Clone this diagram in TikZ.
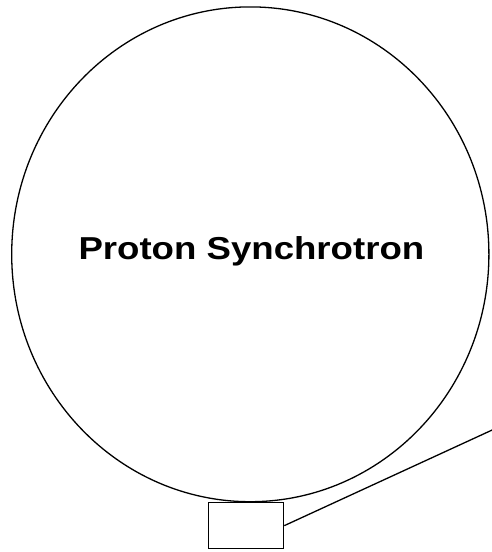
\documentclass[tikz,border=0pt]{standalone}
\usepackage{fontspec}
\setmainfont{Liberation Sans}
\usetikzlibrary{shapes.geometric}
\tikzset{
  ring/.style={draw=black, line width=1.3pt},
  boxr/.style={draw=black, line width=1.3pt, fill=white},
  lbl/.style={font=\bfseries\fontsize{31.7}{36}\selectfont, xscale=1.155, transform shape, inner sep=0pt, anchor=base},
  conn/.style={draw=black, line width=1.3pt}
}
\begin{document}
\begin{tikzpicture}[x=1pt, y=-1pt]
\useasboundingbox (0,0) rectangle (491,552);
\draw[ring] (250.3,254.3) ellipse [x radius=238.6, y radius=247.4];
\node[lbl] (ps) at (251.4,259.3) {Proton Synchrotron};
\node[boxr, minimum width=75pt, minimum height=46pt, inner sep=0pt, anchor=north west] (box) at (208,502) {};
\coordinate (far) at (495,428.7);
\draw[conn] (box.east) -- (far);
\end{tikzpicture}
\end{document}
